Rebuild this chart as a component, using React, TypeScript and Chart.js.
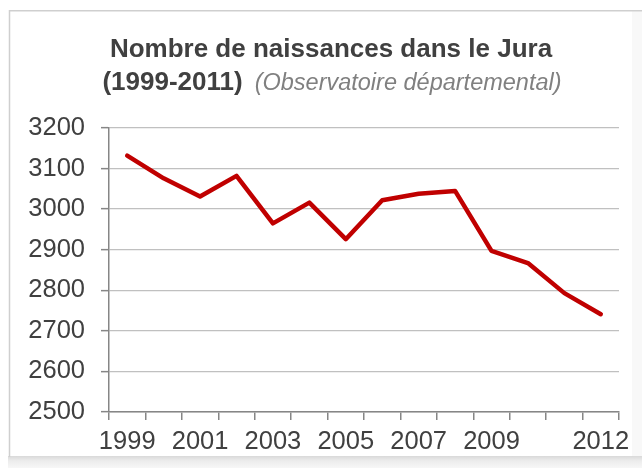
import React, { useEffect, useRef } from "react";
import { Chart, registerables } from "chart.js";

Chart.register(...registerables);

const years = ["1999", "2000", "2001", "2002", "2003", "2004", "2005", "2006", "2007", "2008", "2009", "2010", "2011", "2012"];
const tickLabels = ["1999", "", "2001", "", "2003", "", "2005", "", "2007", "", "2009", "", "", "2012"];
const births = [3132, 3076, 3031, 3082, 2965, 3016, 2926, 3022, 3038, 3045, 2897, 2867, 2793, 2741];
const titleLine1 = "Nombre de naissances dans le Jura";
const titleYears = "(1999-2011)";
const titleSource = "(Observatoire départemental)";
const yMin = 2500;
const yMax = 3200;
const yStep = 100;

const FONT = "'Liberation Sans', Arial, sans-serif";
const W = 642;
const H = 468;

const framePlugin = {
  id: "frame",
  beforeDraw(chart: any) {
    const ctx = chart.ctx;
    ctx.save();
    ctx.fillStyle = "#ffffff";
    ctx.fillRect(0, 0, W, H);
    ctx.fillStyle = "#f8f8f8";
    ctx.fillRect(632, 11, 10, 446);
    const g = ctx.createLinearGradient(0, 456, 0, 468);
    g.addColorStop(0, "#d9d9d9");
    g.addColorStop(0.4, "#ececec");
    g.addColorStop(1, "#f7f7f7");
    ctx.fillStyle = g;
    ctx.fillRect(8, 456, W - 8, 12);
    ctx.strokeStyle = "#cfcfcf";
    ctx.lineWidth = 1.5;
    ctx.beginPath();
    ctx.moveTo(9.5, 457);
    ctx.lineTo(9.5, 10.75);
    ctx.lineTo(642, 10.75);
    ctx.stroke();
    ctx.restore();
  },
  afterDraw(chart: any) {
    const ctx = chart.ctx;
    ctx.save();
    ctx.textBaseline = "alphabetic";
    ctx.textAlign = "left";
    ctx.font = `bold 26px ${FONT}`;
    ctx.fillStyle = "#404040";
    const w1 = ctx.measureText(titleLine1).width;
    ctx.fillText(titleLine1, 331 - w1 / 2, 56.5);
    const bw = ctx.measureText(titleYears).width;
    ctx.font = `italic 23.5px ${FONT}`;
    const iw = ctx.measureText(titleSource).width;
    const gap = 12;
    const total = bw + gap + iw;
    const x0 = 332 - total / 2;
    ctx.font = `bold 26px ${FONT}`;
    ctx.fillStyle = "#404040";
    ctx.fillText(titleYears, x0, 89.5);
    ctx.font = `italic 23.5px ${FONT}`;
    ctx.fillStyle = "#808080";
    ctx.fillText(titleSource, x0 + bw + gap, 89.5);
    ctx.restore();
  },
};

export default function App() {
  const ref = useRef<HTMLCanvasElement | null>(null);

  useEffect(() => {
    if (!ref.current) return;
    const chart = new Chart(ref.current, {
      type: "line",
      data: {
        labels: years,
        datasets: [
          {
            label: "Naissances",
            data: births,
            borderColor: "#c00000",
            backgroundColor: "#c00000",
            borderWidth: 4.5,
            pointRadius: 0,
            pointHoverRadius: 0,
            tension: 0,
            fill: false,
            borderCapStyle: "round",
            borderJoinStyle: "round",
          },
        ],
      },
      options: {
        responsive: false,
        animation: false,
        devicePixelRatio: 1,
        layout: { padding: { top: 128, left: 0, right: 23, bottom: 0 } },
        plugins: {
          legend: { display: false },
          title: { display: false },
          tooltip: { enabled: false },
        },
        scales: {
          x: {
            type: "category",
            offset: true,
            afterFit(scale: any) {
              scale.height = 56;
            },
            grid: {
              display: true,
              offset: true,
              drawOnChartArea: false,
              drawTicks: true,
              tickLength: 8,
              tickColor: "#868686",
              tickWidth: 1.5,
              color: "#868686",
              lineWidth: 1.5,
            },
            border: { display: true, color: "#868686", width: 1.5 },
            ticks: {
              autoSkip: false,
              maxRotation: 0,
              minRotation: 0,
              padding: 7,
              color: "#404040",
              font: { family: FONT, size: 25.5 },
              callback: (_v: any, i: number) => tickLabels[i],
            },
          },
          y: {
            min: yMin,
            max: yMax,
            afterFit(scale: any) {
              scale.width = 109;
            },
            grid: {
              color: "#c0c0c0",
              lineWidth: 1.3,
              drawTicks: true,
              tickLength: 8,
              tickColor: "#868686",
              tickWidth: 1.5,
            },
            border: { display: true, color: "#868686", width: 1.5 },
            ticks: {
              stepSize: yStep,
              padding: 16,
              color: "#404040",
              font: { family: FONT, size: 25.5 },
              callback: (v: any) => String(v),
            },
          },
        },
      },
      plugins: [framePlugin],
    });
    return () => chart.destroy();
  }, []);

  return (
    <canvas
      ref={ref}
      width={W}
      height={H}
      style={{ position: "fixed", left: 0, top: 0, width: W, height: H, display: "block" }}
    />
  );
}
